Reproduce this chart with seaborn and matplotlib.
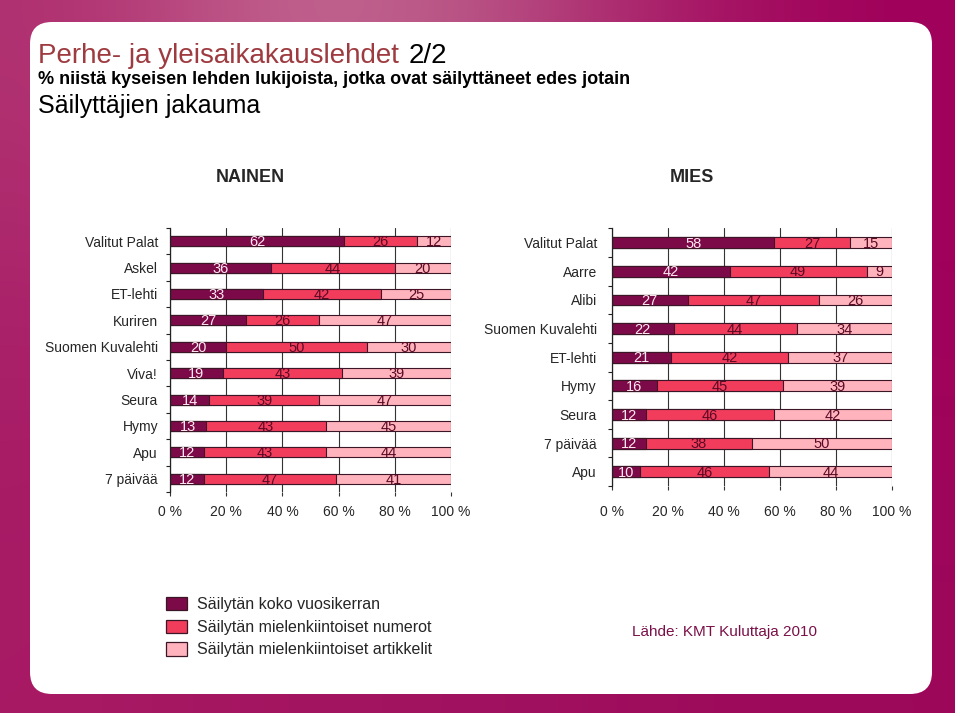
import numpy as np
import pandas as pd
import matplotlib
matplotlib.use('Agg')
import matplotlib.pyplot as plt
from matplotlib.patches import FancyBboxPatch, Patch
import seaborn as sns

sns.set_style('white')
plt.rcParams['font.family'] = ['Liberation Sans', 'DejaVu Sans']

# Data (percent of readers who keep issues)
women_titles = ['Valitut Palat', 'Askel', 'ET-lehti', 'Kuriren',
                'Suomen Kuvalehti', 'Viva!', 'Seura', 'Hymy', 'Apu',
                '7 päivää']
women_whole = [62, 36, 33, 27, 20, 19, 14, 13, 12, 12]
women_issues = [26, 44, 42, 26, 50, 43, 39, 43, 43, 47]
women_articles = [12, 20, 25, 47, 30, 39, 47, 45, 44, 41]

men_titles = ['Valitut Palat', 'Aarre', 'Alibi', 'Suomen Kuvalehti',
              'ET-lehti', 'Hymy', 'Seura', '7 päivää', 'Apu']
men_whole = [58, 42, 27, 22, 21, 16, 12, 12, 10]
men_issues = [27, 49, 47, 44, 42, 45, 46, 38, 46]
men_articles = [15, 9, 26, 34, 37, 39, 42, 50, 44]

series_names = ['Säilytän koko vuosikerran',
                'Säilytän mielenkiintoiset numerot',
                'Säilytän mielenkiintoiset artikkelit']
x_ticks = [0, 20, 40, 60, 80, 100]
x_tick_labels = ['0 %', '20 %', '40 %', '60 %', '80 %', '100 %']

colors = ['#7C0A48', '#F23C5C', '#FFB3BC']
text_colors = ['#FFE8F0', '#5A0A25', '#5A0A25']
edge_color = '#3A1626'


def stacked_panel(ax, titles, whole, issues, articles, label_pad,
                  tick_pad):
    """Draw one 100 % stacked bar panel by overlaying cumulative bars."""
    vals = np.array([whole, issues, articles], dtype=float)
    shares = vals / vals.sum(axis=0) * 100
    cum = np.cumsum(shares, axis=0)
    df = pd.DataFrame({'title': titles, 'c1': cum[0], 'c2': cum[1],
                       'c3': cum[2]})

    for col, color in zip(['c3', 'c2', 'c1'], colors[::-1]):
        sns.barplot(data=df, x=col, y='title', color=color, orient='y',
                    width=0.38, edgecolor=edge_color, linewidth=0.8,
                    saturation=1, errorbar=None, ax=ax)

    starts = np.vstack([np.zeros(len(titles)), cum[:-1]])
    for k in range(3):
        for i in range(len(titles)):
            ax.text((starts[k, i] + cum[k, i]) / 2, i + 0.04,
                    str(int(vals[k, i])), ha='center', va='center',
                    fontsize=10.5, color=text_colors[k])

    n = len(titles)
    ax.set_xlim(0, 100)
    ax.set_ylim(n - 0.5, -0.5)
    ax.set_xticks(x_ticks)
    ax.set_xticklabels(x_tick_labels, fontsize=10)
    ax.set_yticks(range(n))
    ax.set_yticklabels(titles, fontsize=10)
    ax.set_yticks(np.arange(n + 1) - 0.5, minor=True)
    ax.set_xlabel('')
    ax.set_ylabel('')
    ax.set_axisbelow(True)
    ax.grid(axis='x', color='#333333', linewidth=0.8)
    ax.grid(axis='y', visible=False)
    for side in ['top', 'right', 'bottom']:
        ax.spines[side].set_visible(False)
    ax.spines['left'].set_color('#222222')
    ax.spines['left'].set_linewidth(0.9)
    ax.tick_params(axis='y', which='major', length=0, pad=label_pad)
    ax.tick_params(axis='y', which='minor', length=3, width=0.8,
                   color='#222222', direction='out', left=True)
    ax.tick_params(axis='x', which='major', length=3, width=0.8,
                   color='#333333', direction='out', bottom=True,
                   pad=tick_pad)
    ax.set_facecolor('none')


fig = plt.figure(figsize=(9.6, 7.16), dpi=100)

# Background frame with a soft magenta gradient and white rounded card
bg = fig.add_axes([0, 0, 1, 1])
bg.set_xlim(0, 960)
bg.set_ylim(716, 0)
bg.axis('off')
grad = np.array([
    [[176, 48, 112], [196, 108, 148], [186, 90, 136], [168, 28, 104],
     [160, 0, 90]],
    [[168, 30, 104], [166, 20, 98], [162, 10, 94], [160, 4, 92],
     [160, 2, 90]],
    [[168, 26, 100], [164, 20, 96], [160, 20, 96], [158, 12, 92],
     [156, 8, 90]],
], dtype=float) / 255
bg.imshow(grad, extent=[0, 955, 713, 0], interpolation='bicubic',
          aspect='auto')
card = FancyBboxPatch((30, 22), 902, 672,
                      boxstyle='round,pad=0,rounding_size=22',
                      facecolor='white', edgecolor='none')
bg.add_patch(card)

ax_w = fig.add_axes([170 / 960, 1 - 492 / 716, 281 / 960, 264 / 716])
stacked_panel(ax_w, women_titles, women_whole, women_issues,
              women_articles, label_pad=8.6, tick_pad=6.4)

ax_m = fig.add_axes([612 / 960, 1 - 486 / 716, 280 / 960, 257.6 / 716])
stacked_panel(ax_m, men_titles, men_whole, men_issues, men_articles,
              label_pad=10.8, tick_pad=10.7)

# Titles
t1 = fig.text(38 / 960, 1 - 63 / 716, 'Perhe- ja yleisaikakauslehdet',
              fontsize=20, color='#9E3B40', va='baseline', ha='left')
bg.annotate('2/2', xy=(1, 0), xycoords=t1, xytext=(7, 0),
            textcoords='offset points', fontsize=20, color='black',
            va='bottom', ha='left')
fig.text(38 / 960, 1 - 84 / 716,
         '% niistä kyseisen lehden lukijoista, jotka ovat säilyttäneet '
         'edes jotain', fontsize=13, fontweight='bold', va='baseline',
         ha='left', color='black')
fig.text(38 / 960, 1 - 113 / 716, 'Säilyttäjien jakauma', fontsize=18,
         va='baseline', ha='left', color='black')

fig.text(250 / 960, 1 - 178 / 716, 'NAINEN', fontsize=13,
         fontweight='bold', ha='center', va='center')
fig.text(692 / 960, 1 - 178 / 716, 'MIES', fontsize=13,
         fontweight='bold', ha='center', va='center')

# Legend and source
handles = [Patch(facecolor=c, edgecolor=edge_color, linewidth=0.9)
           for c in colors]
fig.legend(handles, series_names, loc='upper left',
           bbox_to_anchor=(166 / 960, 1 - 597 / 716), frameon=False,
           fontsize=11.5, handlelength=1.3, handleheight=0.9,
           handletextpad=0.65, labelspacing=0.47, borderpad=0,
           borderaxespad=0)
fig.text(632 / 960, 1 - 632 / 716, 'Lähde: KMT Kuluttaja 2010',
         fontsize=11, color='#7A1048', ha='left', va='center')

fig.savefig('out.png', dpi=100)
plt.close(fig)
